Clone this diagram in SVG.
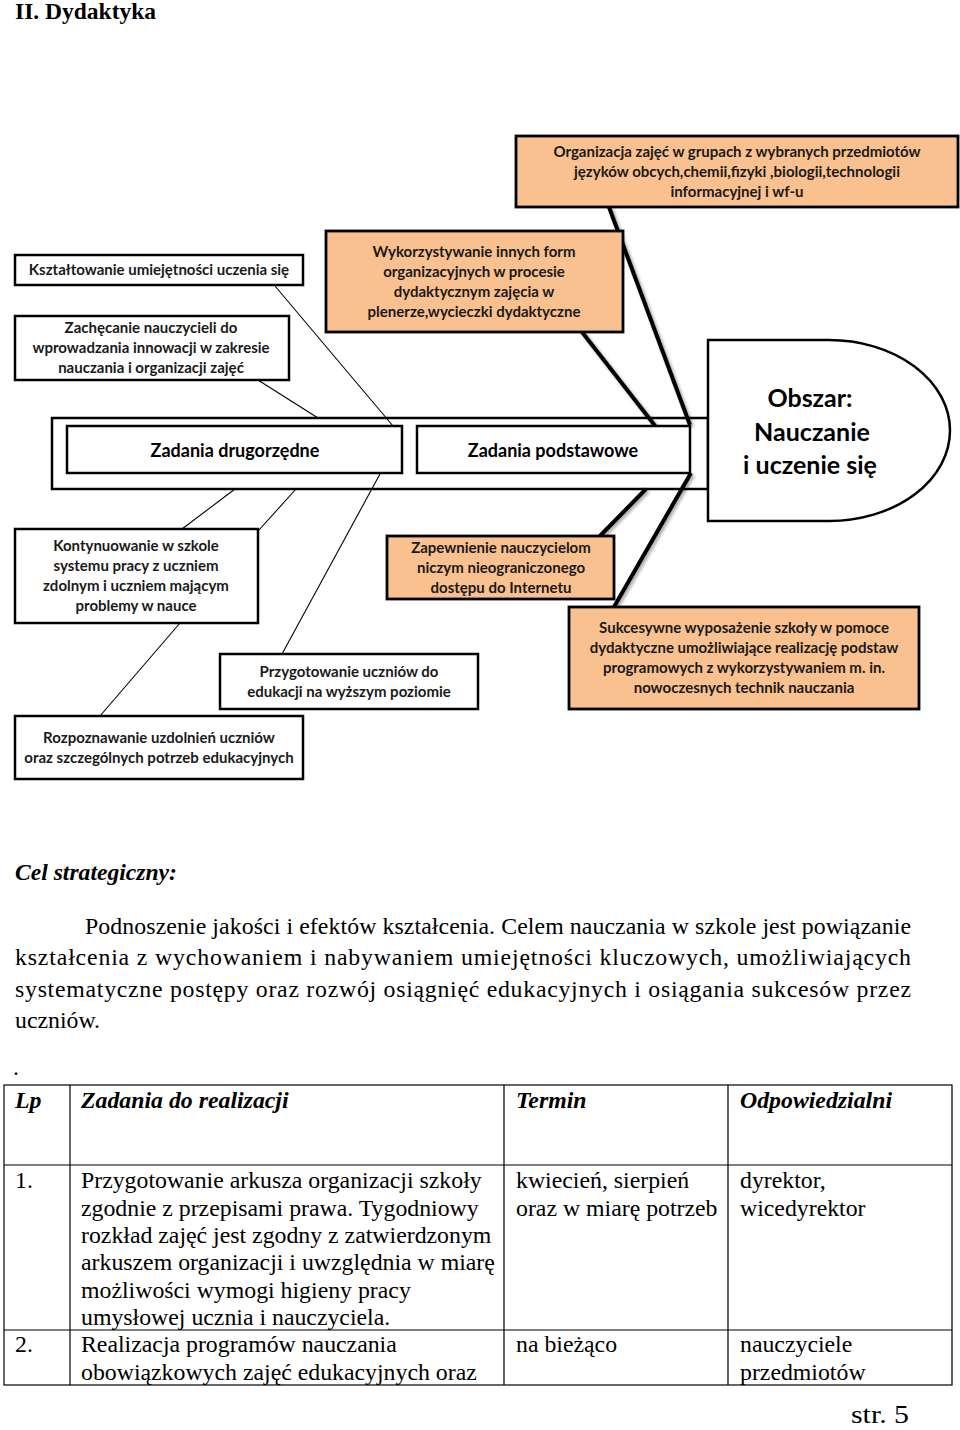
<svg xmlns="http://www.w3.org/2000/svg" width="960" height="1430" viewBox="0 0 960 1430">
<defs>
<style>
.box{fill:#fff;stroke:#000;stroke-width:2.5}
.obox{fill:#F9C090;stroke:#000;stroke-width:2.8}
.bt{font-family:Lato,"Open Sans","Liberation Sans",sans-serif;font-weight:bold;font-size:15px;text-anchor:middle;fill:#1a1a1a}
.big{font-family:Lato,"Open Sans","Liberation Sans",sans-serif;font-weight:bold;font-size:18px;text-anchor:middle;fill:#000}
.obs{font-family:Lato,"Open Sans","Liberation Sans",sans-serif;font-weight:bold;font-size:25px;text-anchor:middle;fill:#000}
.thin{stroke:#000;stroke-width:1.1;fill:none}
.thick{stroke:#000;stroke-width:4.2;fill:none;filter:url(#sh)}
.serif{font-family:"Liberation Serif","Times New Roman",serif;font-size:23.8px;fill:#000}
.hd{font-family:"Liberation Serif","Times New Roman",serif;font-size:23.8px;font-weight:bold;font-style:italic;fill:#000}
.tl{stroke:#000;stroke-width:1.2;fill:none}
</style>
<filter id="sh" x="-20%" y="-20%" width="140%" height="140%">
<feDropShadow dx="2" dy="2" stdDeviation="1.5" flood-color="#888" flood-opacity="0.7"/>
</filter>
</defs>
<rect width="960" height="1430" fill="#fff"/>
<text x="15" y="19" font-family="'Liberation Serif','Times New Roman',serif" font-weight="bold" font-size="23.5">II. Dydaktyka</text>

<g id="connectors">
<line class="thin" x1="275" y1="286" x2="393" y2="426"/>
<line class="thin" x1="258" y1="380" x2="318" y2="418"/>
<line class="thick" x1="609" y1="207" x2="690" y2="425"/>
<line class="thick" x1="582" y1="332" x2="656" y2="427"/>
<line class="thick" x1="646" y1="489" x2="600" y2="536"/>
<line class="thick" x1="691" y1="473" x2="614" y2="607"/>
<line class="thin" x1="235" y1="489" x2="182" y2="529"/>
<line class="thin" x1="296" y1="489" x2="259" y2="530"/>
<line class="thin" x1="380" y1="474" x2="282" y2="654"/>
<line class="thin" x1="180" y1="623" x2="100" y2="716"/>
</g>

<g id="spine">
<rect x="52" y="418" width="656" height="71" fill="none" stroke="#000" stroke-width="2.5"/>
</g>

<g id="obszar">
<path d="M708,340 L829,340 A121,90.5 0 0 1 829,521 L708,521 Z" fill="#fff" stroke="#000" stroke-width="2.5"/>
<text class="obs" x="810" y="407">Obszar:</text>
<text class="obs" x="812" y="441">Nauczanie</text>
<text class="obs" x="810" y="474">i uczenie się</text>
</g>

<g id="zadania-drugorzedne">
<rect class="box" x="67" y="426" width="335" height="47"/>
<text class="big" x="235" y="457">Zadania drugorzędne</text>
</g>

<g id="zadania-podstawowe">
<rect class="box" x="417" y="426" width="273" height="47"/>
<text class="big" x="553" y="457">Zadania podstawowe</text>
</g>

<g id="organizacja">
<rect class="obox" x="516" y="136" width="442" height="71"/>
<text class="bt" x="737" y="157">Organizacja zajęć w grupach z wybranych przedmiotów</text>
<text class="bt" x="737" y="177">języków obcych,chemii,fizyki ,biologii,technologii</text>
<text class="bt" x="737" y="197">informacyjnej i wf-u</text>
</g>

<g id="ksztaltowanie">
<rect class="box" x="15" y="255" width="288" height="30"/>
<text class="bt" x="159" y="275">Kształtowanie umiejętności uczenia się</text>
</g>

<g id="zachecanie">
<rect class="box" x="15" y="316" width="274" height="64"/>
<text class="bt" x="151" y="333">Zachęcanie nauczycieli do</text>
<text class="bt" x="151" y="353">wprowadzania innowacji w zakresie</text>
<text class="bt" x="151" y="373">nauczania i organizacji zajęć</text>
</g>

<g id="wykorzystywanie">
<rect class="obox" x="326" y="231" width="297" height="101"/>
<text class="bt" x="474" y="257">Wykorzystywanie innych form</text>
<text class="bt" x="474" y="277">organizacyjnych w procesie</text>
<text class="bt" x="474" y="297">dydaktycznym zajęcia w</text>
<text class="bt" x="474" y="317">plenerze,wycieczki dydaktyczne</text>
</g>

<g id="kontynuowanie">
<rect class="box" x="15" y="529" width="243" height="94"/>
<text class="bt" x="136" y="551">Kontynuowanie w szkole</text>
<text class="bt" x="136" y="571">systemu pracy z uczniem</text>
<text class="bt" x="136" y="591">zdolnym  i uczniem mającym</text>
<text class="bt" x="136" y="611">problemy w nauce</text>
</g>

<g id="zapewnienie">
<rect class="obox" x="387" y="536" width="227" height="63"/>
<text class="bt" x="501" y="553">Zapewnienie  nauczycielom</text>
<text class="bt" x="501" y="573">niczym nieograniczonego</text>
<text class="bt" x="501" y="593">dostępu do Internetu</text>
</g>

<g id="przygotowanie">
<rect class="box" x="220" y="654" width="258" height="55"/>
<text class="bt" x="349" y="677">Przygotowanie uczniów do</text>
<text class="bt" x="349" y="697">edukacji na wyższym poziomie</text>
</g>

<g id="sukcesywne">
<rect class="obox" x="569" y="607" width="350" height="102"/>
<text class="bt" x="744" y="633">Sukcesywne wyposażenie  szkoły w pomoce</text>
<text class="bt" x="744" y="653">dydaktyczne umożliwiające realizację podstaw</text>
<text class="bt" x="744" y="673">programowych z wykorzystywaniem m. in.</text>
<text class="bt" x="744" y="693">nowoczesnych technik nauczania</text>
</g>

<g id="rozpoznawanie">
<rect class="box" x="15" y="716" width="288" height="63"/>
<text class="bt" x="159" y="743">Rozpoznawanie uzdolnień  uczniów</text>
<text class="bt" x="159" y="763">oraz szczególnych potrzeb edukacyjnych</text>
</g>

<g id="cel">
<text x="15" y="880" font-family="'Liberation Serif','Times New Roman',serif" font-weight="bold" font-style="italic" font-size="23.6">Cel strategiczny:</text>
<text class="serif" x="85" y="934" textLength="826" lengthAdjust="spacing">Podnoszenie jakości i efektów kształcenia. Celem nauczania w szkole jest powiązanie</text>
<text class="serif" x="15" y="965" textLength="896" lengthAdjust="spacing">kształcenia z wychowaniem i nabywaniem umiejętności kluczowych, umożliwiających</text>
<text class="serif" x="15" y="997" textLength="896" lengthAdjust="spacing">systematyczne postępy oraz rozwój osiągnięć edukacyjnych i osiągania sukcesów przez</text>
<text class="serif" x="15" y="1028">uczniów.</text>
<text class="serif" x="13" y="1075">.</text>
</g>

<g id="table">
<rect class="tl" x="4" y="1085" width="948" height="300"/>
<line class="tl" x1="4" y1="1165" x2="952" y2="1165"/>
<line class="tl" x1="4" y1="1330" x2="952" y2="1330"/>
<line class="tl" x1="70" y1="1085" x2="70" y2="1385"/>
<line class="tl" x1="504" y1="1085" x2="504" y2="1385"/>
<line class="tl" x1="728" y1="1085" x2="728" y2="1385"/>
<text class="hd" x="15" y="1108">Lp</text>
<text class="hd" x="81" y="1108">Zadania do realizacji</text>
<text class="hd" x="516" y="1108">Termin</text>
<text class="hd" x="740" y="1108">Odpowiedzialni</text>
<text class="serif" x="15" y="1188">1.</text>
<text class="serif" x="81" y="1188">Przygotowanie arkusza organizacji szkoły</text>
<text class="serif" x="81" y="1216">zgodnie z przepisami prawa. Tygodniowy</text>
<text class="serif" x="81" y="1243">rozkład zajęć jest zgodny z zatwierdzonym</text>
<text class="serif" x="81" y="1270">arkuszem organizacji i uwzględnia w miarę</text>
<text class="serif" x="81" y="1298">możliwości wymogi higieny pracy</text>
<text class="serif" x="81" y="1325">umysłowej ucznia i nauczyciela.</text>
<text class="serif" x="516" y="1188">kwiecień, sierpień</text>
<text class="serif" x="516" y="1216">oraz w miarę potrzeb</text>
<text class="serif" x="740" y="1188">dyrektor,</text>
<text class="serif" x="740" y="1216">wicedyrektor</text>
<text class="serif" x="15" y="1352">2.</text>
<text class="serif" x="81" y="1352">Realizacja programów nauczania</text>
<text class="serif" x="81" y="1380">obowiązkowych zajęć edukacyjnych oraz</text>
<text class="serif" x="516" y="1352">na bieżąco</text>
<text class="serif" x="740" y="1352">nauczyciele</text>
<text class="serif" x="740" y="1380">przedmiotów</text>
</g>
<text x="851" y="1423" font-family="'Liberation Serif','Times New Roman',serif" font-size="25" textLength="58" lengthAdjust="spacingAndGlyphs">str. 5</text>
</svg>
